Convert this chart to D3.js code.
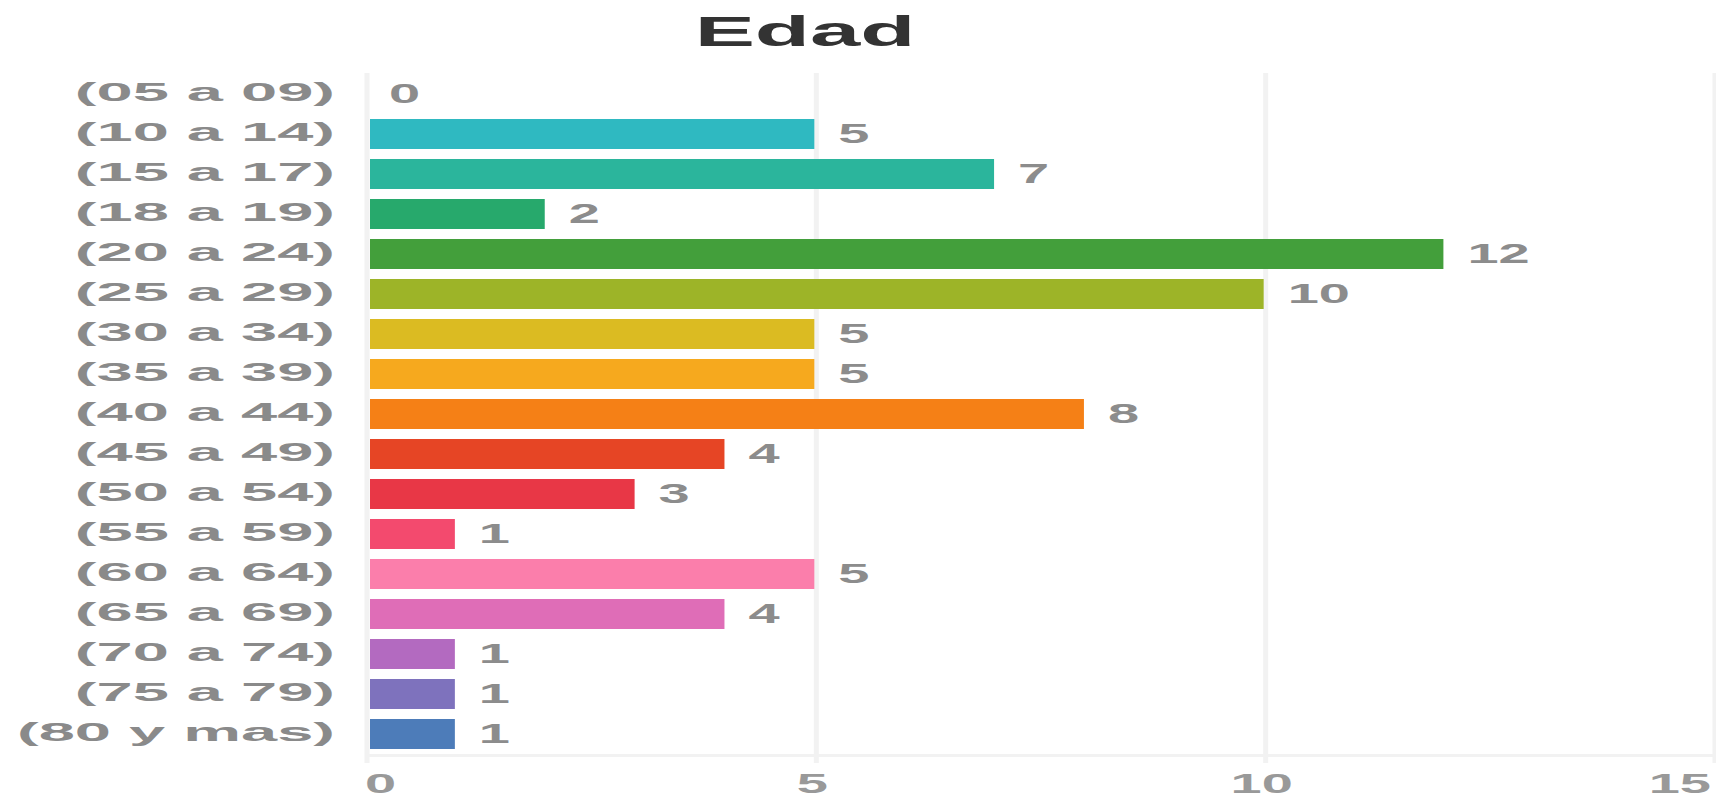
<!DOCTYPE html>
<html>
<head>
<meta charset="utf-8">
<script src="https://cdn.jsdelivr.net/npm/d3@7"></script>
<style>
  html, body { margin: 0; padding: 0; background: #ffffff; }
  svg { display: block; }
  text { font-family: "Liberation Sans", Arial, sans-serif; font-weight: bold; }
</style>
</head>
<body>
<svg id="chart" width="1716" height="797"></svg>
<script>
const title = "Edad";
const categories = ["(05 a 09)", "(10 a 14)", "(15 a 17)", "(18 a 19)", "(20 a 24)", "(25 a 29)",
  "(30 a 34)", "(35 a 39)", "(40 a 44)", "(45 a 49)", "(50 a 54)", "(55 a 59)", "(60 a 64)",
  "(65 a 69)", "(70 a 74)", "(75 a 79)", "(80 y mas)"];
const values = [0, 5, 7, 2, 12, 10, 5, 5, 8, 4, 3, 1, 5, 4, 1, 1, 1];
const colors = ["#2fb9c1", "#2fb9c1", "#2bb59c", "#27a96c", "#439f3b", "#9db428", "#dbbb22",
  "#f6a91e", "#f58016", "#e64525", "#e83746", "#f34a6e", "#fb7eab", "#df6db7", "#b36ac0",
  "#7e72bd", "#4d7cb9"];
const tickValues = [0, 5, 10, 15];

const svg = d3.select("#chart");
const x = d3.scaleLinear().domain([0, 15]).range([367, 1715]);
const y = d3.scaleBand().domain(categories).range([74, 754]).paddingInner(0.25).paddingOuter(0.125);

// gridlines
svg.append("g").selectAll("line").data(tickValues).join("line")
  .attr("x1", d => x(d)).attr("x2", d => x(d))
  .attr("y1", 73).attr("y2", 763)
  .attr("stroke", "#f2f2f2").attr("stroke-width", 5);
// bottom axis line
svg.append("line").attr("x1", x(0)).attr("x2", 1716).attr("y1", 755.5).attr("y2", 755.5)
  .attr("stroke", "#f2f2f2").attr("stroke-width", 3);

// bars
svg.append("g").selectAll("rect").data(values).join("rect")
  .attr("x", x(0) + 3)
  .attr("y", (d, i) => y(categories[i]))
  .attr("width", d => d > 0 ? Math.max(0, x(d) - x(0) - 5) : 0)
  .attr("height", y.bandwidth())
  .attr("fill", (d, i) => colors[i]);

// category labels
svg.append("g").selectAll("text").data(categories).join("text")
  .attr("transform", d => `translate(335,${y(d) + y.bandwidth() / 2 - 2}) scale(2.5,1)`)
  .attr("text-anchor", "end").attr("dominant-baseline", "central")
  .attr("font-size", 26).attr("fill", "#8a8a8a")
  .text(d => d);

// value labels
svg.append("g").selectAll("text").data(values).join("text")
  .attr("transform", (d, i) => `translate(${x(d) + 22},${y(categories[i]) + y.bandwidth() / 2 - 1}) scale(2.0,1)`)
  .attr("text-anchor", "start").attr("dominant-baseline", "central")
  .attr("font-size", 28).attr("fill", "#8c8c8c")
  .text(d => d);

// tick labels
svg.append("g").selectAll("text").data(tickValues).join("text")
  .attr("transform", (d, i) => `translate(${i === 0 ? x(d) - 2 : x(d) - 4},783) scale(2.0,1)`)
  .attr("text-anchor", (d, i) => i === 0 ? "start" : (i === tickValues.length - 1 ? "end" : "middle"))
  .attr("dominant-baseline", "central")
  .attr("font-size", 28).attr("fill", "#999999")
  .text(d => d);

// title
svg.append("text")
  .attr("transform", "translate(805,31) scale(2.15,1)")
  .attr("text-anchor", "middle").attr("dominant-baseline", "central")
  .attr("font-size", 42).attr("fill", "#333333")
  .text(title);
</script>
</body>
</html>
